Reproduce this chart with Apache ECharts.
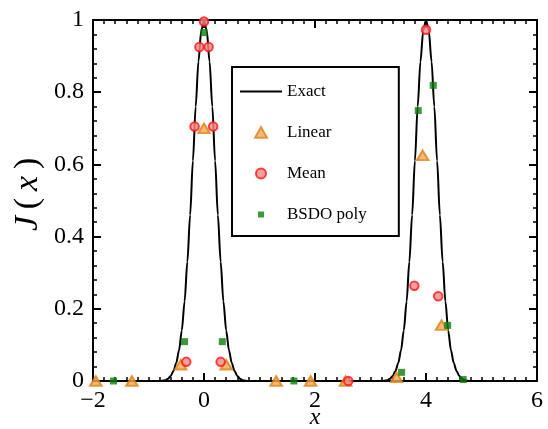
<!DOCTYPE html>
<html>
<head>
<meta charset="utf-8">
<script src="https://cdn.jsdelivr.net/npm/echarts@6/dist/echarts.min.js"></script>
<style>html,body{margin:0;padding:0;background:#fff}#c{width:548px;height:429px}</style>
</head>
<body>
<div id="c"></div>
<script>
// ---- data ----
const exactX = [-2, -0.8, -0.7, -0.65, -0.6, -0.55, -0.5, -0.45, -0.4, -0.35, -0.3, -0.25, -0.2, -0.15, -0.1, -0.05, 0, 0.05, 0.1, 0.15, 0.2, 0.25, 0.3, 0.35, 0.4, 0.45, 0.5, 0.55, 0.6, 0.65, 0.7, 0.8,
  3.2, 3.3, 3.35, 3.4, 3.45, 3.5, 3.55, 3.6, 3.65, 3.7, 3.75, 3.8, 3.85, 3.9, 3.95, 4, 4.05, 4.1, 4.15, 4.2, 4.25, 4.3, 4.35, 4.4, 4.45, 4.5, 4.55, 4.6, 4.65, 4.7, 4.8, 6];
const exactY = [0, 0, 0.002, 0.006, 0.014, 0.028, 0.05, 0.085, 0.14, 0.22, 0.33, 0.46, 0.61, 0.76, 0.885, 0.97, 1, 0.97, 0.885, 0.76, 0.61, 0.46, 0.33, 0.22, 0.14, 0.085, 0.05, 0.028, 0.014, 0.006, 0.002, 0,
  0, 0.002, 0.006, 0.014, 0.028, 0.05, 0.085, 0.14, 0.22, 0.33, 0.46, 0.61, 0.76, 0.885, 0.97, 1, 0.97, 0.885, 0.76, 0.61, 0.46, 0.33, 0.22, 0.14, 0.085, 0.05, 0.028, 0.014, 0.006, 0.002, 0, 0];

const linearX = [-1.95, -1.3, -0.42, 0, 0.4, 1.3, 1.92, 2.55, 3.47, 3.94, 4.28];
const linearY = [0, 0, 0.045, 0.70, 0.045, 0, 0, 0, 0.01, 0.625, 0.155];

const meanX = [-0.32, -0.17, -0.083, 0, 0.083, 0.165, 0.30, 2.6, 3.79, 4.0, 4.22];
const meanY = [0.053, 0.705, 0.925, 0.996, 0.925, 0.705, 0.053, 0, 0.264, 0.973, 0.235];

const bsdoX = [-1.63, -0.35, 0, 0.33, 1.62, 3.56, 3.86, 4.13, 4.39, 4.67];
const bsdoY = [0, 0.109, 0.965, 0.109, 0, 0.024, 0.749, 0.819, 0.154, 0.004];

const seriesNames = ['Exact', 'Linear', 'Mean', 'BSDO poly'];

// ---- chart ----
const zip = (a, b) => a.map((v, i) => [v, b[i]]);
const FONT = '"Liberation Serif", "Times New Roman", serif';
const chart = echarts.init(document.getElementById('c'), null, {renderer: 'canvas'});

const C_TRI = '#F2A85A', C_TRI_B = '#DF8214';
const C_CIR = '#F78A8A', C_CIR_B = '#FF1414';
const C_SQ = '#0A7F0A';

function xAxisCfg(pos, labels) {
  return {
    type: 'value', position: pos, min: -2, max: 6, interval: 2,
    axisLine: {show: true, onZero: false, lineStyle: {color: '#000', width: 2}},
    axisTick: {show: true, inside: true, length: 8, lineStyle: {color: '#000', width: 2}},
    minorTick: {show: true, splitNumber: 10, length: 4, lineStyle: {color: '#000', width: 1.5}},
    splitLine: {show: false},
    axisLabel: {show: labels, fontFamily: FONT, fontSize: 24, color: '#000', margin: 8,
      formatter: v => (v < 0 ? '\u2212' + Math.abs(v) : String(v))},
    name: labels ? 'x' : '', nameLocation: 'middle', nameGap: 25, nameMoveOverlap: false,
    nameTextStyle: {fontFamily: FONT, fontSize: 24, fontStyle: 'italic', color: '#000', verticalAlign: 'top'}
  };
}
function yAxisCfg(pos, labels) {
  return {
    type: 'value', position: pos, min: 0, max: 1, interval: 0.2,
    axisLine: {show: true, onZero: false, lineStyle: {color: '#000', width: 2}},
    axisTick: {show: true, inside: true, length: 8, lineStyle: {color: '#000', width: 2}},
    minorTick: {show: true, splitNumber: 5, length: 4, lineStyle: {color: '#000', width: 1.5}},
    splitLine: {show: false},
    axisLabel: {show: labels, fontFamily: FONT, fontSize: 24, color: '#000', margin: 9},
    name: labels ? '{j|J}{n|(}{i|x}{n|)}' : '', nameLocation: 'middle', nameGap: 48, nameRotate: 90,
    nameMoveOverlap: false,
    nameTextStyle: {fontFamily: FONT, fontSize: 34, color: '#000', verticalAlign: 'bottom',
      rich: {j: {fontFamily: FONT, fontSize: 34, fontStyle: 'italic', color: '#000', padding: [0, 3, 0, 16]},
             i: {fontFamily: FONT, fontSize: 34, fontStyle: 'italic', color: '#000', padding: [0, 3.5]},
             n: {fontFamily: FONT, fontSize: 34, color: '#000', padding: [0, 3.5]}}}
  };
}

chart.setOption({
  animation: false,
  backgroundColor: '#fff',
  grid: {left: 93, right: 11, top: 20, bottom: 48, outerBoundsMode: 'none', containLabel: false},
  xAxis: [xAxisCfg('bottom', true), xAxisCfg('top', false)],
  yAxis: [yAxisCfg('left', true), yAxisCfg('right', false)],
  legend: {
    orient: 'vertical', left: 232, top: 67,
    padding: [16, 32, 13, 8], itemGap: 24, itemWidth: 42, itemHeight: 12,
    borderColor: '#000', borderWidth: 2, backgroundColor: '#fff',
    textStyle: {fontFamily: FONT, fontSize: 17, color: '#000', lineHeight: 17},
    data: [
      {name: seriesNames[0], icon: 'path://M0,5 L42,5 L42,7 L0,7 Z', itemStyle: {color: '#000', borderWidth: 0}},
      {name: seriesNames[1], icon: 'path://M0,0 M12,12 M6,0.5 L12,11.2 L0,11.2 Z',
       itemStyle: {color: C_TRI, borderColor: C_TRI_B, borderWidth: 2}},
      {name: seriesNames[2], icon: 'path://M0,0 M12,12 M6,1 A5,5 0 1,1 5.99,1 Z',
       itemStyle: {color: C_CIR, borderColor: C_CIR_B, borderWidth: 2}},
      {name: seriesNames[3], icon: 'path://M0,0 M12,12 M3,3 L9,3 L9,9 L3,9 Z',
       itemStyle: {color: C_SQ, borderWidth: 0}}
    ]
  },
  series: [
    {name: seriesNames[0], type: 'line', data: zip(exactX, exactY), showSymbol: false, symbol: 'none',
     smooth: 0.3, smoothMonotone: 'x', lineStyle: {color: '#000', width: 2}, itemStyle: {color: '#000'}, z: 2},
    {name: seriesNames[1], type: 'scatter', data: zip(linearX, linearY), symbol: 'triangle', symbolSize: [11.5, 9.5], clip: false,
     itemStyle: {color: C_TRI, borderColor: C_TRI_B, borderWidth: 2}, z: 3},
    {name: seriesNames[2], type: 'scatter', data: zip(meanX, meanY), symbol: 'circle', symbolSize: 8.5, clip: false,
     itemStyle: {color: C_CIR, borderColor: C_CIR_B, borderWidth: 2}, z: 4},
    {name: seriesNames[3], type: 'scatter', data: zip(bsdoX, bsdoY), symbol: 'rect', symbolSize: 7, clip: false,
     itemStyle: {color: C_SQ, borderWidth: 0}, z: 5}
  ]
});
</script>
</body>
</html>
